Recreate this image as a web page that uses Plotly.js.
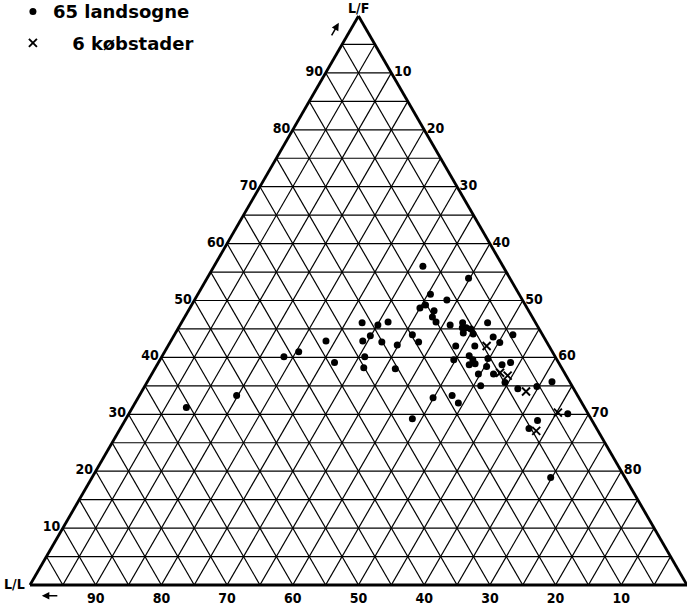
<!DOCTYPE html>
<html>
<head>
<meta charset="utf-8">
<script src="https://cdn.plot.ly/plotly-3.0.1.min.js"></script>
<style>
  html, body { margin: 0; padding: 0; background: #fff; }
  #chart { width: 687px; height: 608px; }
</style>
</head>
<body>
<div id="chart"></div>
<script>
// 65 landsogne (rural parishes): L/F and L/L in percent
var sogneLF = [31.2, 33.3, 40.1, 41.0, 42.9, 39.1, 46.1, 42.9, 40.1, 38.2,
               45.7, 46.2, 43.8, 42.7, 38.0, 42.2, 44.0, 42.7, 56.0, 51.1,
               48.7, 49.2, 48.2, 47.1, 46.2, 50.1, 53.9, 45.7, 46.1, 45.2,
               45.0, 44.1, 44.3, 46.1, 42.0, 42.0, 43.6, 42.6, 44.0, 40.3,
               39.6, 38.7, 38.9, 39.6, 39.8, 38.4, 38.7, 39.1, 37.1, 37.1,
               35.6, 35.0, 34.5, 34.9, 35.7, 32.9, 33.3, 32.0, 29.2, 30.1,
               28.9, 27.5, 18.9, 45.2];
var sogneLL = [60.6, 51.9, 41.3, 38.6, 33.5, 34.1, 26.4, 27.9, 29.0, 30.1,
               24.2, 22.4, 26.3, 25.1, 25.4, 23.0, 19.8, 19.5, 12.2, 13.5,
               16.3, 15.2, 14.4, 15.2, 15.1, 11.5, 6.3, 13.2, 11.1, 11.0,
               10.4, 10.5, 11.9, 7.3, 14.2, 11.3, 7.7, 7.2, 4.5, 13.0,
               12.8, 13.8, 12.8, 15.7, 10.4, 11.3, 8.8, 7.3, 13.2, 10.9,
               9.9, 13.9, 8.5, 5.4, 2.7, 22.2, 19.1, 18.8, 27.2, 3.1,
               8.3, 10.3, 11.3, 11.6];

// 6 købstader (market towns)
var byLF = [42.0, 37.3, 36.8, 34.0, 27.1, 30.3];
var byLL = [9.5, 9.8, 8.9, 7.5, 9.4, 4.5];

var gridVals = [5, 10, 15, 20, 25, 30, 35, 40, 45, 50, 55, 60, 65, 70, 75, 80, 85, 90, 95];
var labels = ['', '10', '', '20', '', '30', '', '40', '', '50', '', '60', '', '70', '', '80', '', '90', ''];
var labelsC = ['', '10', '', '20', '', '30', '', '40', '', '50', '', '60', '', '70', '', '80', '', '', ''];

var tickFont = { family: 'DejaVu Sans Condensed', size: 14, color: '#000', weight: 'bold' };

function axis(text) {
    return {
        title: { text: '' },
        tickmode: 'array',
        tickvals: gridVals,
        ticktext: text,
        ticks: '',
        tickfont: tickFont,
        showgrid: true,
        gridcolor: '#000',
        gridwidth: 1.2,
        showline: true,
        linecolor: '#000',
        linewidth: 2.8,
        min: 0
    };
}

var traces = [
    {
        type: 'scatterternary', mode: 'markers', name: '65 landsogne', legendgroup: 'sogne',
        a: sogneLF, b: sogneLL,
        marker: { symbol: 'circle', size: 7, color: '#000' },
        cliponaxis: false
    },
    {
        type: 'scatterternary', mode: 'markers', name: '\u2007\u20086 k\u00f8bstader', legendgroup: 'by',
        a: byLF, b: byLL,
        marker: { symbol: 'x-thin-open', size: 8, color: '#000', line: { color: '#000', width: 1.9 } },
        cliponaxis: false
    }
];

var layout = {
    width: 687,
    height: 608,
    margin: { l: 30, r: 0, t: 16, b: 23, autoexpand: false },
    paper_bgcolor: '#fff',
    showlegend: true,
    legend: {
        x: -0.026, y: 1.04, xanchor: 'left', yanchor: 'top',
        bgcolor: 'rgba(0,0,0,0)',
        font: { family: 'DejaVu Sans', size: 18, color: '#000', weight: 'bold' },
        tracegroupgap: 5
    },
    ternary: {
        sum: 100,
        bgcolor: '#fff',
        aaxis: axis(labels),
        baxis: axis(labels),
        caxis: axis(labelsC)
    },
    annotations: [
        { xref: 'paper', yref: 'paper', x: 0.5, y: 1.014, xanchor: 'center', yanchor: 'middle',
          text: 'L/F', showarrow: false, font: tickFont },
        { xref: 'paper', yref: 'paper', x: -0.0046, y: 0.002, xanchor: 'right', yanchor: 'middle',
          text: 'L/L', showarrow: false, font: tickFont },
        { xref: 'paper', yref: 'paper', x: 0.470, y: 0.988, ax: -8, ay: 14,
          text: '', showarrow: true, arrowhead: 2, arrowsize: 1, arrowwidth: 1.5, arrowcolor: '#000' },
        { xref: 'paper', yref: 'paper', x: 0.018, y: -0.019, ax: 17, ay: 0,
          text: '', showarrow: true, arrowhead: 2, arrowsize: 1, arrowwidth: 1.5, arrowcolor: '#000' }
    ]
};

Plotly.newPlot('chart', traces, layout, { staticPlot: true });
</script>
</body>
</html>
